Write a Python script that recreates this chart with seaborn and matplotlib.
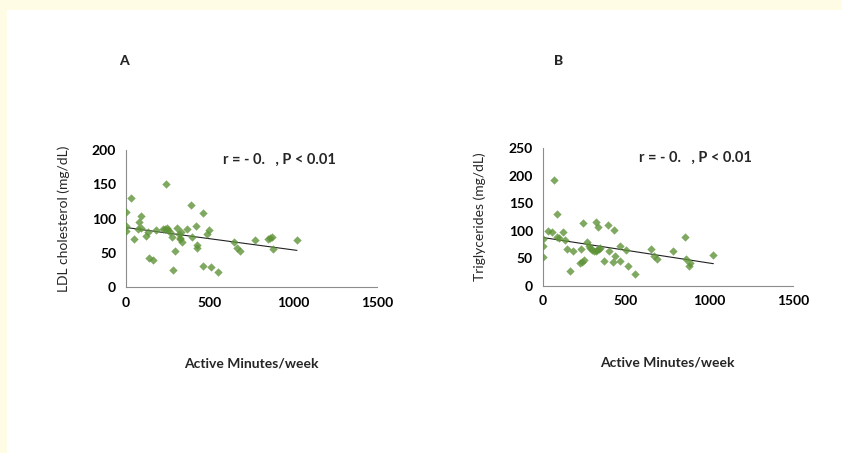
import numpy as np
import pandas as pd
import matplotlib
matplotlib.use("Agg")
import matplotlib.pyplot as plt
import seaborn as sns
from matplotlib.patches import Rectangle

# ── Data ─────────────────────────────────────────────────────────────────────
ldl_minutes = [0, 0, 0, 30, 50, 80, 90, 74, 88, 120, 134, 140, 160, 180, 224,
               242, 234, 244, 253, 263, 273, 283, 293, 307, 315, 320, 329, 335,
               323, 365, 387, 395, 421, 427, 427, 459, 459, 495, 487, 511, 549,
               647, 661, 679, 774, 850, 862, 872, 880, 1022]
ldl_values = [109, 89, 82, 130, 70, 95, 103, 84, 86, 75, 81, 42, 40, 83, 84,
              150, 85, 86, 83, 81, 73, 25, 53, 86, 78, 71, 80, 66,
              70, 84, 120, 73, 89, 62, 57, 108, 31, 83, 77, 29, 22,
              65, 57, 52, 68, 70, 72, 73, 55, 69]

tg_minutes = [4, 4, 4, 34, 54, 68, 84, 84, 96, 124, 134, 144, 164, 184, 224,
              234, 248, 228, 244, 268, 276, 284, 296, 308, 320, 328, 336, 320,
              334, 344, 368, 394, 400, 428, 434, 424, 464, 464, 498, 514, 554,
              648, 668, 684, 780, 854, 860, 878, 886, 1024]
tg_values = [85, 72, 53, 99, 98, 192, 130, 89, 86, 97, 84, 66, 27, 64, 41,
             44, 46, 67, 115, 80, 72, 68, 65, 64, 63, 65, 66, 116,
             106, 68, 45, 110, 63, 101, 54, 44, 73, 45, 65, 36, 22,
             67, 54, 49, 63, 89, 49, 36, 42, 55]

x_ticks = [0, 500, 1000, 1500]
ldl_ticks = [0, 50, 100, 150, 200]
tg_ticks = [0, 50, 100, 150, 200, 250]

panel_labels = ["A", "B"]
y_labels = ["LDL cholesterol (mg/dL)", "Triglycerides (mg/dL)"]
x_label = "Active Minutes/week"
stat_text = "r = - 0.   , P < 0.01"

POINT_COLOR = "#5F9338"
AXIS_COLOR = "#8C8C8C"

sns.set_style("white")
plt.rcParams["font.family"] = ["Lato", "DejaVu Sans"]

fig = plt.figure(figsize=(8.42, 4.53), dpi=100)
fig.patch.set_facecolor("white")

# light yellow page border (top + left strip)
fig.patches.append(Rectangle((0, 1 - 10 / 453), 1, 10 / 453, transform=fig.transFigure,
                             facecolor="#FFFCE6", edgecolor="none", zorder=0))
fig.patches.append(Rectangle((0, 0), 7 / 842, 1, transform=fig.transFigure,
                             facecolor="#FFFCE6", edgecolor="none", zorder=0))

axes = [fig.add_axes([0.1496, 0.3664, 0.2981, 0.3024]),
        fig.add_axes([0.6445, 0.3693, 0.2970, 0.3033])]

panels = [
    (pd.DataFrame({"minutes": ldl_minutes, "value": ldl_values}), ldl_ticks),
    (pd.DataFrame({"minutes": tg_minutes, "value": tg_values}), tg_ticks),
]

for i, (ax, (df, yt)) in enumerate(zip(axes, panels)):
    sns.regplot(data=df, x="minutes", y="value", ax=ax, ci=None, truncate=True,
                marker="D",
                scatter_kws={"s": 18, "color": POINT_COLOR, "linewidths": 0, "zorder": 3},
                line_kws={"color": "#222222", "linewidth": 0.8, "zorder": 2})

    ax.set_xlim(x_ticks[0], x_ticks[-1])
    ax.set_ylim(yt[0], yt[-1])
    ax.set_xticks(x_ticks)
    ax.set_yticks(yt)
    ax.tick_params(axis="both", direction="out", length=4, width=0.8,
                   color=AXIS_COLOR, labelsize=10, labelcolor="black", pad=3)
    for lbl in ax.get_xticklabels() + ax.get_yticklabels():
        lbl.set_fontweight("bold")

    for side in ["top", "right"]:
        ax.spines[side].set_visible(False)
    for side in ["left", "bottom"]:
        ax.spines[side].set_color(AXIS_COLOR)
        ax.spines[side].set_linewidth(0.8)

    ax.set_xlabel(x_label, fontsize=10, fontweight="bold", labelpad=35)
    ax.set_ylabel(y_labels[i], fontsize=10, labelpad=16)

    ax.text(0.385, 0.93, stat_text, transform=ax.transAxes, fontsize=10.5,
            fontweight="bold", ha="left", va="center")

fig.text(124 / 842, 1 - 61 / 453, panel_labels[0], fontsize=10, fontweight="black",
         ha="center", va="center")
fig.text(559 / 842, 1 - 61 / 453, panel_labels[1], fontsize=10, fontweight="black",
         ha="center", va="center")

fig.savefig("out.png", dpi=100, facecolor=fig.get_facecolor())
plt.close(fig)
